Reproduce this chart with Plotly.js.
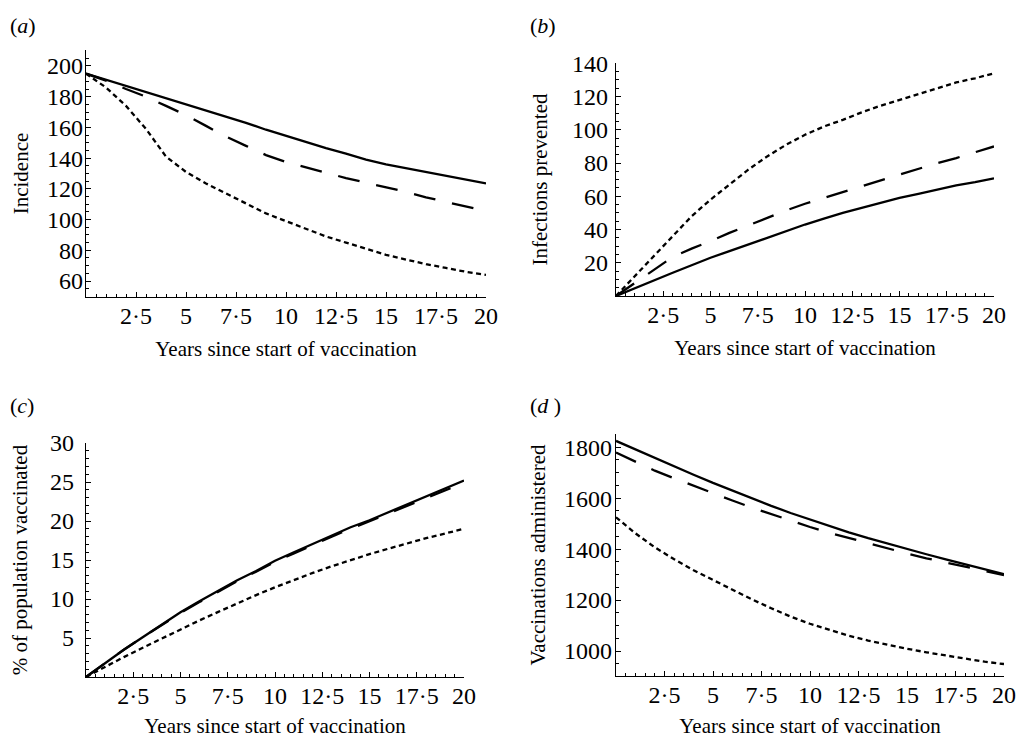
<!DOCTYPE html>
<html><head><meta charset="utf-8">
<script src="https://cdn.plot.ly/plotly-3.0.1.min.js"></script>
<style>html,body{margin:0;padding:0;background:#fff}#chart{width:1019px;height:738px}</style>
</head><body><div id="chart"></div>
<script>
const years = [0,1,2,3,4,5,6,7,8,9,10,11,12,13,14,15,16,17,18,19,20];

const incidenceSolid  = [195,191,187,183,178.5,174.5,171,167,163,158.5,154.5,150.5,146.5,143,139,136,133.5,131,128.5,126,123.5];
const incidenceDashed = [195,190.5,185,180,174,168,161,154,148,142,137.5,134,130.5,127,124,121,118,114.5,111.5,108.5,105.5];
const incidenceDotted = [195,186,174,159,141,131,123.5,117,110,104,99,94,89,85,81,77,74,71,68.5,66,64];

const preventedSolid  = [0,4.8,9.5,14,18.5,23,27,31,35,39,43,46.5,50,53,56,59,61.5,64,66.5,68.5,70.8];
const preventedDashed = [0,8,16,23.5,28.5,33,38,42.5,47,51.5,55.5,59,62.5,66,69.5,73,76.5,80,83,86.5,90];
const preventedDotted = [0,12,24,36,48,58,67,76,84,91,97,102,106,110.5,114.5,118,121.5,125,128.5,131,134];

const vaccinatedSolid  = [0,1.8,3.5,5.1,6.7,8.3,9.7,11.1,12.4,13.6,14.9,16.0,17.1,18.2,19.2,20.1,21.1,22.1,23.1,24.15,25.2];
const vaccinatedDashed = [0,1.8,3.5,5.1,6.65,8.2,9.6,11.0,12.3,13.5,14.75,15.85,16.95,18.0,19.0,20.0,21.0,21.95,22.9,23.9,24.9];
const vaccinatedDotted = [0,1.3,2.55,3.75,4.95,6.1,7.25,8.35,9.45,10.5,11.5,12.45,13.35,14.2,15.0,15.75,16.45,17.15,17.8,18.4,19.0];

const administeredSolid  = [1825,1791,1757,1724,1692,1660,1629,1599,1570,1542,1516,1490,1466,1443,1421,1400,1380,1360,1340,1321,1302];
const administeredDashed = [1779,1742,1708,1678,1648,1619,1591,1563,1537,1511,1487,1464,1443,1422,1402,1383,1364,1348,1330,1316,1298];
const administeredDotted = [1525,1462,1407,1360,1317,1278,1240,1203,1168,1135,1107,1082,1060,1041,1024,1009,995,982,969,958,949];

const xTickVals = [2.5,5,7.5,10,12.5,15,17.5,20];
const xTickText = ['2·5','5','7·5','10','12·5','15','17·5','20'];
const yTicksA = [60,80,100,120,140,160,180,200];
const yTicksB = [20,40,60,80,100,120,140];
const yTicksC = [5,10,15,20,25,30];
const yTicksD = [1000,1200,1400,1600,1800];

const xTitle = 'Years since start of vaccination';
const FONT = '"Liberation Serif", "Times New Roman", serif';

const styles = {
  solid:  {color:'#000', width:2.3, dash:'solid'},
  dashed: {color:'#000', width:2.3, dash:'22px,17px'},
  dotted: {color:'#000', width:2.3, dash:'5px,3.5px'}
};

function tr(y, style, xa, ya){
  return {x: years, y: y, type:'scatter', mode:'lines', line: styles[style],
          xaxis: xa, yaxis: ya, showlegend:false, hoverinfo:'skip'};
}

const data = [
  tr(incidenceDotted,'dotted','x','y'), tr(incidenceDashed,'dashed','x','y'), tr(incidenceSolid,'solid','x','y'),
  tr(preventedDotted,'dotted','x2','y2'), tr(preventedDashed,'dashed','x2','y2'), tr(preventedSolid,'solid','x2','y2'),
  tr(vaccinatedDotted,'dotted','x3','y3'), tr(vaccinatedDashed,'dashed','x3','y3'), tr(vaccinatedSolid,'solid','x3','y3'),
  tr(administeredDotted,'dotted','x4','y4'), tr(administeredDashed,'dashed','x4','y4'), tr(administeredSolid,'solid','x4','y4')
];

function xAxis(domain, anchor, standoff){
  return {domain: domain, anchor: anchor, range:[0,20], showline:true, linecolor:'#000', linewidth:1.3,
    showgrid:false, zeroline:false, ticks:'inside', ticklen:5, tickwidth:1, tickcolor:'#000',
    tickmode:'array', tickvals:xTickVals, ticktext:xTickText, ticklabelstandoff:-3, ticklabeloverflow:'allow',
    tickfont:{family:FONT, size:24, color:'#000'},
    minor:{dtick:0.5, tick0:0, ticks:'inside', ticklen:3, tickwidth:1, tickcolor:'#000', showgrid:false},
    title:{text:xTitle, font:{family:FONT, size:21, color:'#000'}, standoff:standoff}};
}
function yAxis(domain, anchor, range, vals, minorStep, title, standoff, labelOff){
  return {domain: domain, anchor: anchor, range: range, showline:true, linecolor:'#000', linewidth:1.3,
    showgrid:false, zeroline:false, ticks:'inside', ticklen:5, tickwidth:1, tickcolor:'#000',
    tickmode:'array', tickvals:vals, ticktext:vals.map(String), ticklabelstandoff:labelOff, ticklabeloverflow:'allow',
    tickfont:{family:FONT, size:24, color:'#000'},
    minor:{dtick:minorStep, tick0:0, ticks:'inside', ticklen:3, tickwidth:1, tickcolor:'#000', showgrid:false},
    title:{text:title, font:{family:FONT, size:21, color:'#000'}, standoff:standoff}};
}

const W = 1019, H = 738;
const dx = (a,b)=>[a/W, b/W];
const dy = (top,bottom)=>[1-bottom/H, 1-top/H];

const layout = {
  width:W, height:H, margin:{l:0,r:0,t:0,b:0}, paper_bgcolor:'#fff', plot_bgcolor:'#fff',
  font:{family:FONT, color:'#000'},
  xaxis:  xAxis(dx(86,486), 'y', 13),
  yaxis:  yAxis(dy(50,297), 'x', [49.6,210.4], yTicksA, 5, 'Incidence', 12, -3),
  xaxis2: xAxis(dx(616,994), 'y2', 13),
  yaxis2: yAxis(dy(63,296), 'x2', [0,140.2], yTicksB, 5, 'Infections prevented', 18, 2),
  xaxis3: xAxis(dx(86,464), 'y3', 16),
  yaxis3: yAxis(dy(443,677), 'x3', [0,30], yTicksC, 1, '% of population vaccinated', 16, 6),
  xaxis4: xAxis(dx(616,1004), 'y4', 16),
  yaxis4: yAxis(dy(434,676), 'x4', [902,1852], yTicksD, 50, 'Vaccinations administered', 12, -2),
  annotations: [
    {text:'(<i>a</i>)', x:8/W, y:1-26/H},
    {text:'(<i>b</i>)', x:528/W, y:1-26/H},
    {text:'(<i>c</i>)', x:8/W, y:1-405/H},
    {text:'(<i>d</i> )', x:528/W, y:1-405/H}
  ].map(a=>Object.assign({xref:'paper', yref:'paper', xanchor:'left', yanchor:'middle', showarrow:false,
      font:{family:FONT, size:22, color:'#000'}}, a))
};

Plotly.newPlot('chart', data, layout, {staticPlot:true, displayModeBar:false});
</script>
</body></html>
